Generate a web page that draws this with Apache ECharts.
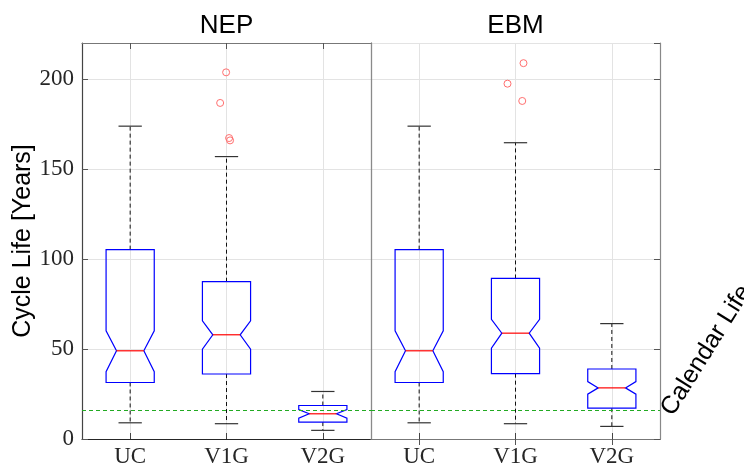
<!DOCTYPE html>
<html><head><meta charset="utf-8">
<script src="https://cdn.jsdelivr.net/npm/echarts@6/dist/echarts.min.js"></script>
<style>html,body{margin:0;padding:0;background:#fff}#c{width:744px;height:468px}</style>
</head><body><div id="c"></div>
<script>
// ---- data ----
const groups = ['NEP', 'EBM'];
const scenarios = ['UC', 'V1G', 'V2G'];
const yTicks = [0, 50, 100, 150, 200];
const yAxisTitle = 'Cycle Life [Years]';
const calendarLabel = 'Calendar Life';
const calendarLife = 15.9;

const nepLowerWhisker = [9.0, 8.5, 4.8];
const nepQ1 = [31.4, 36.1, 9.4];
const nepNotchLow = [37.4, 49.9, 11.6];
const nepMedian = [49.0, 57.9, 14.0];
const nepNotchHigh = [60.1, 65.6, 16.4];
const nepQ3 = [105.2, 87.4, 18.6];
const nepUpperWhisker = [173.8, 156.9, 26.4];
const nepOutlierScenario = [1, 1, 1, 1];
const nepOutliers = [203.7, 186.7, 167.2, 165.9];
const nepOutlierJitter = [-0.004, -0.066, 0.027, 0.037];

const ebmLowerWhisker = [9.0, 8.5, 7.0];
const ebmQ1 = [31.4, 36.3, 17.1];
const ebmNotchLow = [37.4, 50.5, 24.9];
const ebmMedian = [49.0, 58.8, 28.4];
const ebmNotchHigh = [60.1, 66.5, 31.9];
const ebmQ3 = [105.2, 89.2, 38.9];
const ebmUpperWhisker = [173.8, 164.6, 64.1];
const ebmOutlierScenario = [1, 1, 1];
const ebmOutliers = [208.8, 197.4, 187.8];
const ebmOutlierJitter = [0.083, -0.083, 0.07];

// ---- build ----
function boxRows(lw, q1, nl, md, nh, q3, uw) {
  return scenarios.map((s, i) => [i, lw[i], q1[i], nl[i], md[i], nh[i], q3[i], uw[i]]);
}
function outlierRows(idx, vals, jit) {
  return vals.map((v, k) => [idx[k], v, jit[k]]);
}
const boxData = [
  boxRows(nepLowerWhisker, nepQ1, nepNotchLow, nepMedian, nepNotchHigh, nepQ3, nepUpperWhisker),
  boxRows(ebmLowerWhisker, ebmQ1, ebmNotchLow, ebmMedian, ebmNotchHigh, ebmQ3, ebmUpperWhisker)
];
const outData = [
  outlierRows(nepOutlierScenario, nepOutliers, nepOutlierJitter),
  outlierRows(ebmOutlierScenario, ebmOutliers, ebmOutlierJitter)
];

const BOX_HALF = 0.25, NOTCH_HALF = 0.142, CAP_HALF = 0.121;
function renderBox(params, api) {
  const i = api.value(0);
  const band = api.size([1, 0])[0];
  const x = api.coord([i, 0])[0];
  const Y = k => api.coord([i, api.value(k)])[1];
  const lw = Y(1), q1 = Y(2), nl = Y(3), md = Y(4), nh = Y(5), q3 = Y(6), uw = Y(7);
  const bw = band * BOX_HALF, nw = band * NOTCH_HALF, cw = band * CAP_HALF;
  const dash = {stroke: '#111', lineWidth: 1, lineDash: [4, 3]};
  const cap = {stroke: '#333', lineWidth: 1.2};
  return {type: 'group', children: [
    {type: 'line', shape: {x1: x, y1: q3, x2: x, y2: uw}, style: dash},
    {type: 'line', shape: {x1: x, y1: q1, x2: x, y2: lw}, style: dash},
    {type: 'line', shape: {x1: x - cw, y1: uw, x2: x + cw, y2: uw}, style: cap},
    {type: 'line', shape: {x1: x - cw, y1: lw, x2: x + cw, y2: lw}, style: cap},
    {type: 'polygon', shape: {points: [
      [x - bw, q3], [x + bw, q3], [x + bw, nh], [x + nw, md], [x + bw, nl], [x + bw, q1],
      [x - bw, q1], [x - bw, nl], [x - nw, md], [x - bw, nh]
    ]}, style: {fill: 'none', stroke: '#0000ff', lineWidth: 1.2}},
    {type: 'line', shape: {x1: x - nw, y1: md, x2: x + nw, y2: md}, style: {stroke: '#ff0000', lineWidth: 1.2}}
  ]};
}
function renderOutlier(params, api) {
  const band = api.size([1, 0])[0];
  const p = api.coord([api.value(0), api.value(1)]);
  return {type: 'circle', shape: {cx: p[0] + api.value(2) * band, cy: p[1], r: 3.5},
    style: {fill: 'none', stroke: '#ff6f6f', lineWidth: 1}};
}
function renderLabel(params, api) {
  const band = api.size([1, 0])[0];
  const p = api.coord([api.value(0), api.value(1)]);
  return {type: 'text', x: p[0] + band / 2 + 7, y: p[1] + 3, rotation: 58 * Math.PI / 180,
    style: {text: calendarLabel, font: '25px "Liberation Sans", Arial, sans-serif', fill: '#000',
      align: 'left', verticalAlign: 'middle'}};
}

const labelFont = '"Liberation Serif", "Times New Roman", serif';
const gridLine = {show: true, lineStyle: {color: '#e3e3e3', width: 1}};
const grids = [
  {left: 82, top: 43, width: 289, height: 398},
  {left: 371, top: 43, width: 289, height: 398}
];
const xAxes = [], yAxes = [], series = [];
groups.forEach((g, gi) => {
  xAxes.push({type: 'category', gridIndex: gi, position: 'bottom', data: scenarios,
    boundaryGap: true,
    axisLine: {lineStyle: {color: '#262626', width: 1.2}},
    axisTick: {show: true, inside: true, alignWithLabel: true, length: 6, lineStyle: {color: '#444'}},
    axisLabel: {color: '#262626', fontFamily: labelFont, fontSize: 23, margin: 6},
    splitLine: Object.assign({alignWithLabel: true}, gridLine)});
  xAxes.push({type: 'category', gridIndex: gi, position: 'top', data: scenarios,
    boundaryGap: true, name: g, nameLocation: 'middle', nameGap: 4,
    nameTextStyle: {color: '#000', fontSize: 26, fontFamily: '"Liberation Sans", Arial, sans-serif'},
    axisLine: {lineStyle: {color: '#777', width: 1.2}},
    axisTick: {show: true, inside: true, alignWithLabel: true, length: 6, lineStyle: {color: '#555'}},
    axisLabel: {show: false}, splitLine: {show: false}});
});
yAxes.push({type: 'value', gridIndex: 0, position: 'left', min: 0, max: 220, interval: 50,
  name: yAxisTitle, nameLocation: 'middle', nameGap: 46,
  nameTextStyle: {color: '#000', fontSize: 25, fontFamily: '"Liberation Sans", Arial, sans-serif'},
  axisLine: {show: true, lineStyle: {color: '#444', width: 1.2}},
  axisTick: {show: true, inside: true, length: 6, lineStyle: {color: '#555'}},
  axisLabel: {color: '#262626', fontFamily: labelFont, fontSize: 23, margin: 8, showMaxLabel: false,
    formatter: v => yTicks.includes(v) ? String(v) : ''},
  splitLine: gridLine});
yAxes.push({type: 'value', gridIndex: 1, position: 'left', min: 0, max: 220, interval: 50,
  axisLine: {show: true, lineStyle: {color: '#8a8a8a', width: 1.3}},
  axisTick: {show: false}, axisLabel: {show: false}, splitLine: gridLine});
yAxes.push({type: 'value', gridIndex: 1, position: 'right', min: 0, max: 220, interval: 50,
  axisLine: {show: true, lineStyle: {color: '#888', width: 1.2}},
  axisTick: {show: true, inside: true, length: 6, lineStyle: {color: '#555'}},
  axisLabel: {show: false}, splitLine: {show: false}});

groups.forEach((g, gi) => {
  series.push({type: 'custom', name: g + ' boxes', xAxisIndex: gi * 2, yAxisIndex: gi,
    data: boxData[gi], renderItem: renderBox, encode: {x: 0, y: [1, 2, 3, 4, 5, 6, 7]}, clip: false, z: 3,
    markLine: {silent: true, symbol: 'none', animation: false,
      data: [{yAxis: calendarLife}], label: {show: false},
      lineStyle: {color: '#22aa22', type: [4, 3], width: 1}}});
  series.push({type: 'custom', name: g + ' outliers', xAxisIndex: gi * 2, yAxisIndex: gi,
    data: outData[gi], renderItem: renderOutlier, encode: {x: 0, y: 1}, clip: false, z: 4});
});
series.push({type: 'custom', name: 'label', xAxisIndex: 2, yAxisIndex: 1,
  data: [[scenarios.length - 1, calendarLife]], renderItem: renderLabel, encode: {x: 0, y: 1}, clip: false, z: 5});

const chart = echarts.init(document.getElementById('c'), null, {renderer: 'canvas'});
chart.setOption({animation: false, backgroundColor: '#fff', grid: grids, xAxis: xAxes, yAxis: yAxes, series: series});
</script>
</body></html>
